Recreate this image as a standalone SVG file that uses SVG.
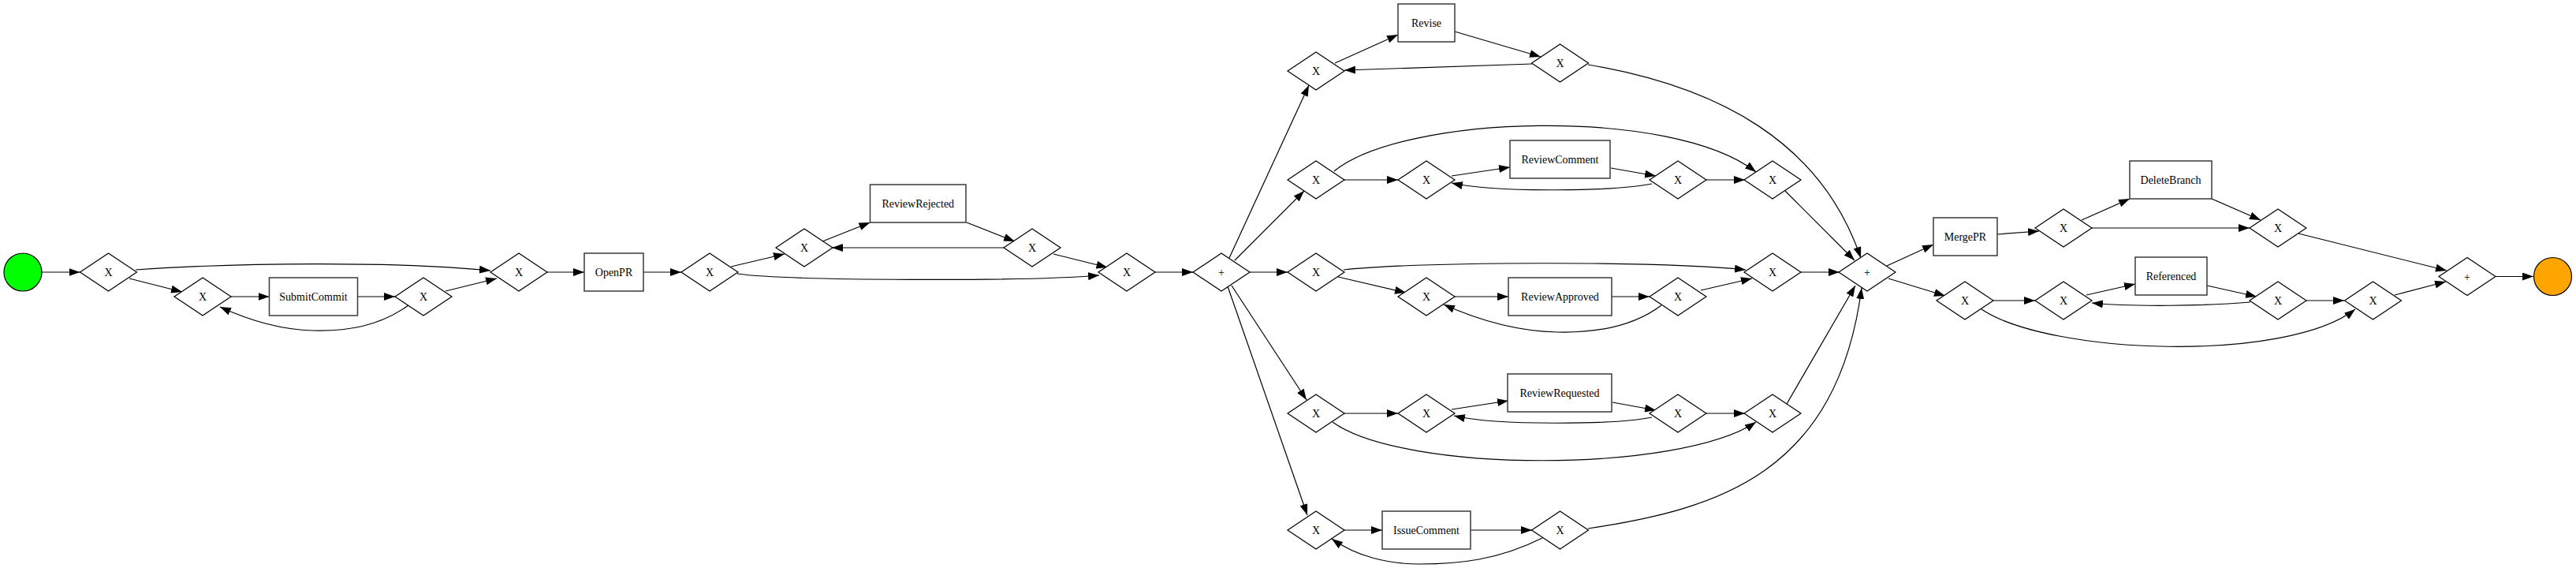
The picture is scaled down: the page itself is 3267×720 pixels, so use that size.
<svg xmlns="http://www.w3.org/2000/svg" width="3267" height="720" viewBox="0 0 3267 720">
<style>
.bg{fill:#ffffff}
.gw{fill:#ffffff;stroke:#000000;stroke-width:1.2}
.task{fill:#ffffff;stroke:#3a3a3a;stroke-width:1.5}
.lbl{font-family:"Liberation Serif","Times New Roman",serif;font-size:14px;fill:#000000;text-anchor:middle}
.e{fill:none;stroke:#000000;stroke-width:1.2;marker-end:url(#ah)}
</style>
<defs>
<marker id="ah" markerUnits="userSpaceOnUse" markerWidth="14" markerHeight="10" refX="14" refY="5" orient="auto" viewBox="0 0 14 10">
<path d="M0,0 L14,5 L0,10 Z" fill="#000000"/>
</marker>
</defs>
<rect class="bg" x="0" y="0" width="3267" height="720"/>
<g id="connectors">
<path class="e" d="M53,345 L101.5,345"/>
<path class="e" d="M172,342 C300,333 500,331 622,343"/>
<path class="e" d="M164,353 L231,370"/>
<path class="e" d="M293,376 L341.5,376"/>
<path class="e" d="M453.5,376 L501,376"/>
<path class="e" d="M565,369 L630,353"/>
<path class="e" d="M518,387 C480,414 440,420 397,419 C360,418 320,408 279,389"/>
<path class="e" d="M694,345 L741,345"/>
<path class="e" d="M816,345 L864,345"/>
<path class="e" d="M927,338 L995,322"/>
<path class="e" d="M1043,306 L1103.5,282"/>
<path class="e" d="M1226,282 L1287,306"/>
<path class="e" d="M1273,314 L1055,314"/>
<path class="e" d="M1336,322 L1404.5,339"/>
<path class="e" d="M935,347 C1000,356 1300,357 1394,349"/>
<path class="e" d="M1465,345 L1513,345"/>
<path class="e" d="M1559,327 L1660,108"/>
<path class="e" d="M1566,330 L1654,242"/>
<path class="e" d="M1585,345 L1633,345"/>
<path class="e" d="M1562,362 L1657,507"/>
<path class="e" d="M1557,363 L1658,653"/>
<path class="e" d="M1693,80 L1773,44"/>
<path class="e" d="M1845,40 L1954,72"/>
<path class="e" d="M1943,81 L1705,89"/>
<path class="e" d="M2014,82 C2180,110 2310,180 2360,327"/>
<path class="e" d="M1704,228 L1773,228"/>
<path class="e" d="M1692,217 C1780,145 2120,135 2227,218"/>
<path class="e" d="M1841,223 L1915,212"/>
<path class="e" d="M2043,213 L2100,223"/>
<path class="e" d="M2095,233 C2050,242 1900,245 1841,232"/>
<path class="e" d="M2163,228 L2213,228"/>
<path class="e" d="M2264,242 L2352,330"/>
<path class="e" d="M1697,351 L1783,371"/>
<path class="e" d="M1845,376 L1913,376"/>
<path class="e" d="M2044,376 L2092,376"/>
<path class="e" d="M2107,387 C2070,415 2020,422 1975,421 C1930,420 1880,408 1831,386"/>
<path class="e" d="M2157,368 L2222,353"/>
<path class="e" d="M1704,342 C1800,332 2100,330 2214,342"/>
<path class="e" d="M2284,345 L2333,345"/>
<path class="e" d="M1704,524 L1773,524"/>
<path class="e" d="M1841,519 L1913,508"/>
<path class="e" d="M2045,510 L2100,520"/>
<path class="e" d="M2095,529 C2050,538 1900,540 1844,527"/>
<path class="e" d="M2163,524 L2213,524"/>
<path class="e" d="M1690,535 C1780,600 2130,600 2227,535"/>
<path class="e" d="M2266,512 L2353,362"/>
<path class="e" d="M1704,672 L1753,672"/>
<path class="e" d="M1865,672 L1943,672"/>
<path class="e" d="M1956,682 C1900,710 1850,715 1800,715 C1760,715 1720,705 1689,683"/>
<path class="e" d="M2014,670 C2180,645 2330,600 2361,365"/>
<path class="e" d="M2393,337 L2452,310"/>
<path class="e" d="M2395,353 L2467,375"/>
<path class="e" d="M2533,297 L2586,293"/>
<path class="e" d="M2640,279 L2701,252"/>
<path class="e" d="M2653,289 L2853,289"/>
<path class="e" d="M2805,252 L2867,279"/>
<path class="e" d="M2915,296 L3103,343"/>
<path class="e" d="M2528,381 L2581,381"/>
<path class="e" d="M2646,374 L2708,360"/>
<path class="e" d="M2799,362 L2862,376"/>
<path class="e" d="M2854,383 C2800,388 2700,389 2653,384"/>
<path class="e" d="M2925,381 L2973,381"/>
<path class="e" d="M2513,392 C2600,450 2900,460 2987,392"/>
<path class="e" d="M3037,374 L3102,357"/>
<path class="e" d="M3165,350.5 L3213,350.5"/>
</g>
<g id="start"><circle cx="29" cy="345" r="24" fill="#00ff00" stroke="#000000" stroke-width="1.2"/></g>
<g id="end"><circle cx="3237.5" cy="350.5" r="24" fill="#ffa500" stroke="#000000" stroke-width="1.2"/></g>
<g id="d1"><path class="gw" d="M101.5,345 L137.5,321 L173.5,345 L137.5,369 Z"/><text class="lbl" x="137.5" y="350">X</text></g>
<g id="d2"><path class="gw" d="M221,376 L257,352 L293,376 L257,400 Z"/><text class="lbl" x="257" y="381">X</text></g>
<g id="submitcommit"><rect class="task" x="341.5" y="352" width="112" height="48"/><text class="lbl" x="397.5" y="381">SubmitCommit</text></g>
<g id="d3"><path class="gw" d="M501,376 L537,352 L573,376 L537,400 Z"/><text class="lbl" x="537" y="381">X</text></g>
<g id="d4"><path class="gw" d="M622,345 L658,321 L694,345 L658,369 Z"/><text class="lbl" x="658" y="350">X</text></g>
<g id="openpr"><rect class="task" x="741" y="321" width="75" height="48"/><text class="lbl" x="778.5" y="350">OpenPR</text></g>
<g id="d5"><path class="gw" d="M864,345 L900,321 L936,345 L900,369 Z"/><text class="lbl" x="900" y="350">X</text></g>
<g id="d6"><path class="gw" d="M984,314 L1020,290 L1056,314 L1020,338 Z"/><text class="lbl" x="1020" y="319">X</text></g>
<g id="reviewrejected"><rect class="task" x="1103.5" y="234" width="121.5" height="48"/><text class="lbl" x="1164.25" y="263">ReviewRejected</text></g>
<g id="d7"><path class="gw" d="M1273,314 L1309,290 L1345,314 L1309,338 Z"/><text class="lbl" x="1309" y="319">X</text></g>
<g id="d8"><path class="gw" d="M1393,345 L1429,321 L1465,345 L1429,369 Z"/><text class="lbl" x="1429" y="350">X</text></g>
<g id="split"><path class="gw" d="M1513,345 L1549,321 L1585,345 L1549,369 Z"/><text class="lbl" x="1549" y="350">+</text></g>
<g id="d9"><path class="gw" d="M1633,90 L1669,66 L1705,90 L1669,114 Z"/><text class="lbl" x="1669" y="95">X</text></g>
<g id="revise"><rect class="task" x="1773" y="5" width="72" height="48"/><text class="lbl" x="1809" y="34">Revise</text></g>
<g id="d10"><path class="gw" d="M1942.5,80 L1978.5,56 L2014.5,80 L1978.5,104 Z"/><text class="lbl" x="1978.5" y="85">X</text></g>
<g id="d11"><path class="gw" d="M1633,228 L1669,204 L1705,228 L1669,252 Z"/><text class="lbl" x="1669" y="233">X</text></g>
<g id="d12"><path class="gw" d="M1773,228 L1809,204 L1845,228 L1809,252 Z"/><text class="lbl" x="1809" y="233">X</text></g>
<g id="reviewcomment"><rect class="task" x="1915" y="178" width="127" height="48"/><text class="lbl" x="1978.5" y="207">ReviewComment</text></g>
<g id="d13"><path class="gw" d="M2092,228 L2128,204 L2164,228 L2128,252 Z"/><text class="lbl" x="2128" y="233">X</text></g>
<g id="d14"><path class="gw" d="M2212,228 L2248,204 L2284,228 L2248,252 Z"/><text class="lbl" x="2248" y="233">X</text></g>
<g id="d15"><path class="gw" d="M1633,345 L1669,321 L1705,345 L1669,369 Z"/><text class="lbl" x="1669" y="350">X</text></g>
<g id="d16"><path class="gw" d="M1773,376 L1809,352 L1845,376 L1809,400 Z"/><text class="lbl" x="1809" y="381">X</text></g>
<g id="reviewapproved"><rect class="task" x="1913" y="352" width="131" height="48"/><text class="lbl" x="1978.5" y="381">ReviewApproved</text></g>
<g id="d17"><path class="gw" d="M2092,376 L2128,352 L2164,376 L2128,400 Z"/><text class="lbl" x="2128" y="381">X</text></g>
<g id="d18"><path class="gw" d="M2212,345 L2248,321 L2284,345 L2248,369 Z"/><text class="lbl" x="2248" y="350">X</text></g>
<g id="d19"><path class="gw" d="M1633,524 L1669,500 L1705,524 L1669,548 Z"/><text class="lbl" x="1669" y="529">X</text></g>
<g id="d20"><path class="gw" d="M1773,524 L1809,500 L1845,524 L1809,548 Z"/><text class="lbl" x="1809" y="529">X</text></g>
<g id="reviewrequested"><rect class="task" x="1912" y="474" width="132" height="48"/><text class="lbl" x="1978" y="503">ReviewRequested</text></g>
<g id="d21"><path class="gw" d="M2092,524 L2128,500 L2164,524 L2128,548 Z"/><text class="lbl" x="2128" y="529">X</text></g>
<g id="d22"><path class="gw" d="M2212,524 L2248,500 L2284,524 L2248,548 Z"/><text class="lbl" x="2248" y="529">X</text></g>
<g id="d23"><path class="gw" d="M1633,672 L1669,648 L1705,672 L1669,696 Z"/><text class="lbl" x="1669" y="677">X</text></g>
<g id="issuecomment"><rect class="task" x="1753" y="648" width="112" height="48"/><text class="lbl" x="1809" y="677">IssueComment</text></g>
<g id="d24"><path class="gw" d="M1942.5,672 L1978.5,648 L2014.5,672 L1978.5,696 Z"/><text class="lbl" x="1978.5" y="677">X</text></g>
<g id="join"><path class="gw" d="M2332,345 L2368,321 L2404,345 L2368,369 Z"/><text class="lbl" x="2368" y="350">+</text></g>
<g id="mergepr"><rect class="task" x="2452" y="276" width="81" height="48"/><text class="lbl" x="2492.5" y="305">MergePR</text></g>
<g id="d25"><path class="gw" d="M2581,289 L2617,265 L2653,289 L2617,313 Z"/><text class="lbl" x="2617" y="294">X</text></g>
<g id="deletebranch"><rect class="task" x="2701" y="204" width="104" height="48"/><text class="lbl" x="2753" y="233">DeleteBranch</text></g>
<g id="d26"><path class="gw" d="M2853,289 L2889,265 L2925,289 L2889,313 Z"/><text class="lbl" x="2889" y="294">X</text></g>
<g id="d27"><path class="gw" d="M2456,381 L2492,357 L2528,381 L2492,405 Z"/><text class="lbl" x="2492" y="386">X</text></g>
<g id="d28"><path class="gw" d="M2581,381 L2617,357 L2653,381 L2617,405 Z"/><text class="lbl" x="2617" y="386">X</text></g>
<g id="referenced"><rect class="task" x="2708" y="326" width="91" height="48"/><text class="lbl" x="2753.5" y="355">Referenced</text></g>
<g id="d29"><path class="gw" d="M2853,381 L2889,357 L2925,381 L2889,405 Z"/><text class="lbl" x="2889" y="386">X</text></g>
<g id="d30"><path class="gw" d="M2973.5,381 L3009.5,357 L3045.5,381 L3009.5,405 Z"/><text class="lbl" x="3009.5" y="386">X</text></g>
<g id="finaljoin"><path class="gw" d="M3093,350.5 L3129,326.5 L3165,350.5 L3129,374.5 Z"/><text class="lbl" x="3129" y="355.5">+</text></g>
</svg>
